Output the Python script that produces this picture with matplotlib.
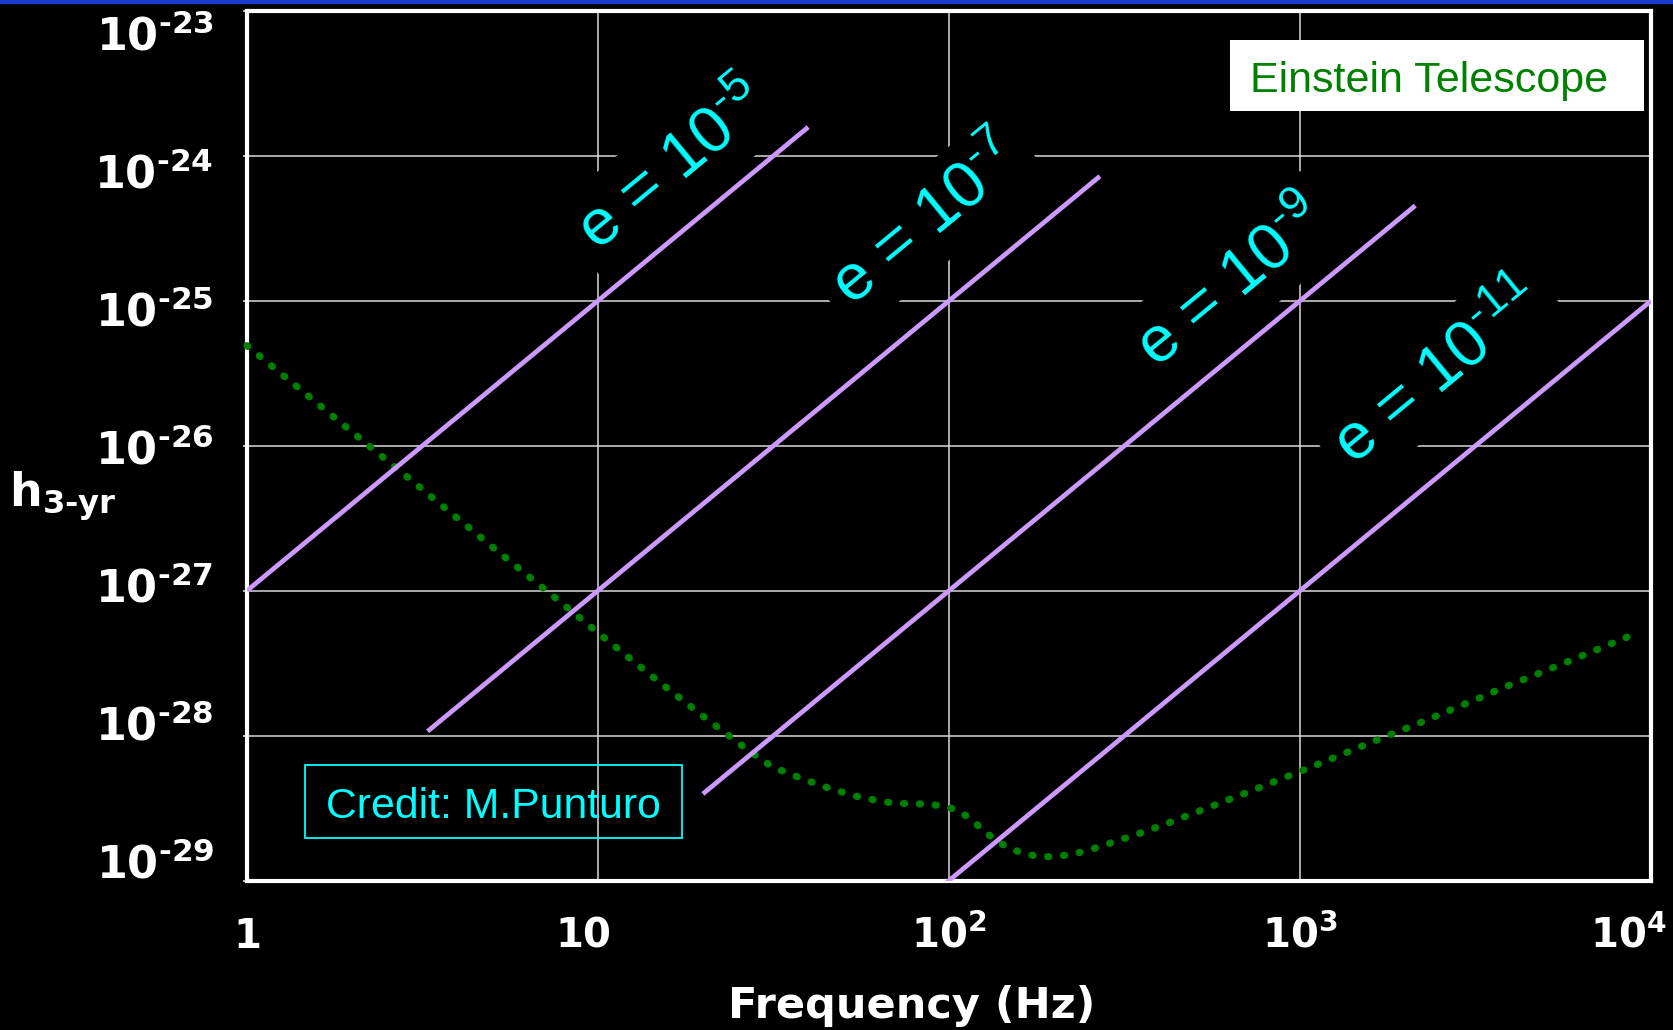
import matplotlib
matplotlib.use('Agg')
import matplotlib.pyplot as plt
from matplotlib.transforms import ScaledTranslation
from matplotlib.patches import Rectangle

HY = '\u2010'  # short hyphen used in the superscripts

# ---------------- data ----------------
# Einstein Telescope sensitivity curve (dotted green)
et_freq = [1, 1.39, 1.773, 2.26, 2.884, 3.99, 5.52, 7.64, 10.6, 14.7,
           20.5, 26.4, 31.3, 37.9, 46.2, 56.6, 69.7, 85.9, 95.3, 105.4,
           115.1, 124.5, 134.9, 147.6, 162.6, 180.3, 200, 221.8, 246, 271.6,
           332.7, 404.6, 492, 600, 729.5, 975, 1186, 1435, 1746, 2118,
           2576, 3126, 3793, 4603, 5598, 6792, 8260, 9078]
et_h = [4.90e-26, 2.55e-26, 1.57e-26, 9.70e-27, 6.00e-27, 3.14e-27, 1.65e-27, 8.73e-28, 4.57e-28, 2.42e-28,
        1.29e-28, 8.13e-29, 6.10e-29, 5.07e-29, 4.28e-29, 3.72e-29, 3.41e-29, 3.37e-29, 3.28e-29, 3.07e-29,
        2.67e-29, 2.25e-29, 1.92e-29, 1.68e-29, 1.54e-29, 1.46e-29, 1.46e-29, 1.51e-29, 1.60e-29, 1.73e-29,
        2.03e-29, 2.40e-29, 2.88e-29, 3.47e-29, 4.17e-29, 5.52e-29, 6.68e-29, 8.08e-29, 9.82e-29, 1.18e-28,
        1.44e-28, 1.75e-28, 2.14e-28, 2.58e-28, 3.13e-28, 3.79e-28, 4.62e-28, 5.08e-28]

# ellipticity lines (straight in log-log): endpoints
ellipticity_exp = ['5', '7', '9', '11']
line_f_start = [1, 3.27, 19.9, 98]
line_f_end = [39.7, 269, 2130, 10000]
line_h_start = [1e-27, 1.07e-28, 3.96e-29, 9.6e-30]
line_h_end = [1.58e-24, 7.24e-25, 4.54e-25, 1e-25]

xtick_vals = [1, 10, 100, 1000, 10000]
xtick_labels = ['1', '10', r'10$^{\mathdefault{2}}$', r'10$^{\mathdefault{3}}$', r'10$^{\mathdefault{4}}$']
ytick_vals = [1e-29, 1e-28, 1e-27, 1e-26, 1e-25, 1e-24, 1e-23]
ytick_labels = [r'10$^{\mathdefault{' + HY + e + '}}$' for e in ['29', '28', '27', '26', '25', '24', '23']]

# ---------------- layout ----------------
W, H = 1674, 1030
AX_L, AX_R, AX_T, AX_B = 247, 1651, 11, 880.5
label_xy = [(0.3031, 0.8210), (0.4841, 0.7576), (0.7012, 0.6857), (0.8483, 0.5843)]

fig = plt.figure(figsize=(W / 100, H / 100), dpi=100, facecolor='black')
ax = fig.add_axes([AX_L / W, (H - AX_B) / H, (AX_R - AX_L) / W, (AX_B - AX_T) / H])
ax.set_facecolor('black')
ax.set_xscale('log')
ax.set_yscale('log')
ax.set_xlim(1, 1e4)
ax.set_ylim(1e-29, 1e-23)
ax.set_xticks(xtick_vals)
ax.set_xticklabels(xtick_labels, fontsize=29, fontweight='bold', family='DejaVu Sans', color='white')
ax.set_yticks(ytick_vals)
ax.set_yticklabels(ytick_labels, fontsize=32, fontweight='bold', family='DejaVu Sans', color='white')
ax.xaxis.set_minor_locator(matplotlib.ticker.NullLocator())
ax.yaxis.set_minor_locator(matplotlib.ticker.NullLocator())
ax.tick_params(axis='x', length=0, pad=48.6)
ax.tick_params(axis='y', length=3, width=1.2, color='#d9d9d9', pad=21)
ax.grid(True, which='major', color='#d9d9d9', lw=1.1)
ax.set_axisbelow(True)
for s in ax.spines.values():
    s.set_color('white')
    s.set_linewidth(3)

for lab in ax.get_xticklabels():
    lab.set_va('baseline')
xl = ax.get_xticklabels()
xl[1].set_transform(xl[1].get_transform() + ScaledTranslation(-0.15, 0, fig.dpi_scale_trans))
xl[4].set_transform(xl[4].get_transform() + ScaledTranslation(-0.23, 0, fig.dpi_scale_trans))
# y tick labels sit slightly off their grid lines in the original (compressed towards the middle)
for k, lab in enumerate(ax.get_yticklabels()):
    lab.set_va('baseline')
    dy_px = 18.8 + 6.8 * (k - 3)
    lab.set_transform(lab.get_transform() + ScaledTranslation(0, -dy_px / 100, fig.dpi_scale_trans))

# sensitivity curve
ax.plot(et_freq, et_h, color='#008000', lw=5.2, linestyle=(0, (0.15, 2.05)),
        dash_capstyle='round', zorder=3, clip_on=False)

# ellipticity lines and labels
for e, f0, f1, h0, h1, (lx, ly) in zip(ellipticity_exp, line_f_start, line_f_end,
                                      line_h_start, line_h_end, label_xy):
    ax.plot([f0, f1], [h0, h1], color='#cc99ff', lw=3.4, solid_capstyle='butt', zorder=4)
    ax.text(lx, ly, 'e = 10$^{\\mathdefault{' + HY + e + '}}$', transform=ax.transAxes,
            rotation=39.5, rotation_mode='anchor', ha='center', va='center',
            fontsize=47, color='#00ffff', family='Liberation Sans',
            bbox=dict(boxstyle='square,pad=0.2', fc='black', ec='none'), zorder=3.5)

# Einstein Telescope box
ax.add_patch(Rectangle((0.7001, 0.8853), 0.2949, 0.0813, transform=ax.transAxes,
                       fc='white', ec='none', zorder=6))
ax.text(0.8422, 0.9072, 'Einstein Telescope', transform=ax.transAxes, ha='center', va='baseline',
        fontsize=31, color='#008000', family='Liberation Sans', zorder=7)

# Credit box
ax.add_patch(Rectangle((0.0413, 0.0485), 0.2683, 0.0843, transform=ax.transAxes,
                       fc='none', ec='#00ffff', lw=1.3, zorder=6))
ax.text(0.1752, 0.0715, 'Credit: M.Punturo', transform=ax.transAxes, ha='center', va='baseline',
        fontsize=30.8, color='#00ffff', family='Liberation Sans', zorder=7)

# axis labels
ax.set_xlabel('Frequency (Hz)', fontsize=31, fontweight='bold', family='DejaVu Sans',
              color='white', va='baseline')
ax.xaxis.set_label_coords(0.4733, -0.158)
ax.set_ylabel('h$_{\\mathdefault{3' + HY + 'yr}}$', rotation=0, fontsize=33, fontweight='bold',
              family='DejaVu Sans', color='white', ha='left', va='baseline')
ax.yaxis.set_label_coords(-0.1695, 0.4296)

# thin blue strip at the top edge
fig.add_artist(Rectangle((0, 1 - 2.5 / H), 1, 2.5 / H, transform=fig.transFigure,
                         color='#1a3ccc', zorder=10))

fig.savefig('out.png', dpi=100, facecolor='black')
